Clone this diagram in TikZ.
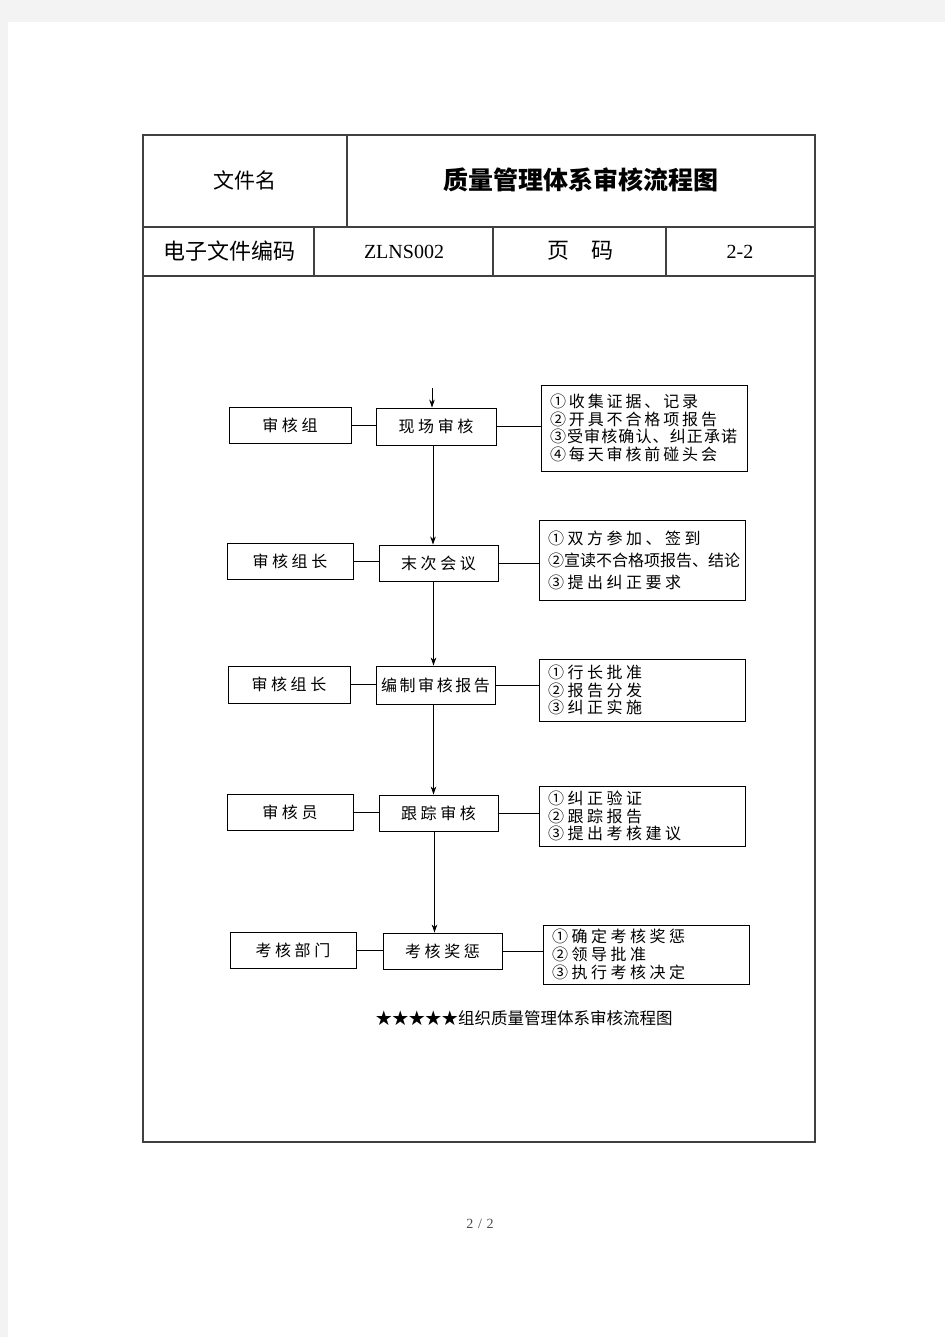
\documentclass[tikz,border=0pt]{standalone}
\usepackage{fontspec}
\setmainfont{Liberation Serif}
\newfontfamily\cjk{Noto Sans CJK SC}
\newfontfamily\cjksp[LetterSpace=22]{Noto Sans CJK SC}
\usetikzlibrary{arrows.meta}
\definecolor{pagegray}{HTML}{F3F3F3}
\definecolor{tblline}{HTML}{404040}
\newcommand{\spc}[1]{\addfontfeature{LetterSpace=#1}}
\begin{document}
\begin{tikzpicture}[x=1pt,y=-1pt,
  box/.style={draw=black, line width=0.9pt, inner sep=0pt,
    font=\cjksp\fontsize{16}{17.5}\selectfont},
  listbox/.style={draw=black, line width=0.9pt, inner xsep=9pt, inner ysep=0pt,
    text width=188pt, align=left, minimum width=206pt,
    font=\cjksp\fontsize{16}{17.6}\selectfont},
  tbl/.style={draw=tblline, line width=1.1pt},
  link/.style={line width=0.9pt},
  flow/.style={line width=0.9pt, -{Stealth[length=8pt,width=5.5pt]}}
]
\useasboundingbox (0,0) rectangle (945,1337);
\fill[pagegray] (0,0) rectangle (945,1337);
\fill[white] (8,22) rectangle (945,1337);

% table frame
\draw[tbl] (143,135) rectangle (815,1142);
\draw[tbl] (143,227) -- (815,227);
\draw[tbl] (143,276) -- (815,276);
\draw[tbl] (347,135) -- (347,227);
\draw[tbl] (314,227) -- (314,276);
\draw[tbl] (493,227) -- (493,276);
\draw[tbl] (666,227) -- (666,276);

\node[font=\cjk\fontsize{21}{24}\selectfont] (hname) at (245,180) {文件名};
\node[font=\cjk\bfseries\fontsize{25}{28}\selectfont] (htitle) at (581,180) {质量管理体系审核流程图};
\node[font=\cjk\fontsize{22}{24}\selectfont] (hcode) at (229,251) {电子文件编码};
\node[font=\fontsize{20}{24}\selectfont] (hcodev) at (404,252) {ZLNS002};
\node[font=\cjk\fontsize{22}{24}\selectfont] (hpage) at (580,251) {页　码};
\node[font=\fontsize{20}{24}\selectfont] (hpagev) at (740,252) {2-2};

% row 1
\node[box, minimum width=122pt, minimum height=36pt] (L1) at (290,425) {审核组};
\node[box, minimum width=120pt, minimum height=37pt] (M1) at (436,426.5) {现场审核};
\node[listbox, minimum height=86pt, font=\cjksp\spc{18}\fontsize{16}{17.6}\selectfont] (R1) at (644,428)
  {①收集证据、记录\\②开具不合格项报告\\{\spc{7}③受审核确认、纠正承诺}\\④每天审核前碰头会};
% row 2
\node[box, minimum width=126pt, minimum height=36pt] (L2) at (290,561) {审核组长};
\node[box, minimum width=119pt, minimum height=36pt] (M2) at (438.5,563) {末次会议};
\node[listbox, minimum height=80pt, font=\cjksp\fontsize{16}{22}\selectfont] (R2) at (642,560)
  {①双方参加、签到\\{\spc{0}②宣读不合格项报告、结论}\\③提出纠正要求};
% row 3
\node[box, minimum width=122pt, minimum height=37pt] (L3) at (289,684.5) {审核组长};
\node[box, minimum width=119pt, minimum height=38pt, font=\cjksp\spc{16}\fontsize{16}{17.5}\selectfont] (M3) at (435.5,685) {编制审核报告};
\node[listbox, minimum height=62pt] (R3) at (642,690)
  {①行长批准\\②报告分发\\③纠正实施};
% row 4
\node[box, minimum width=126pt, minimum height=36pt] (L4) at (290,812) {审核员};
\node[box, minimum width=119pt, minimum height=36pt] (M4) at (438.5,813) {跟踪审核};
\node[listbox, minimum height=60pt] (R4) at (642,816)
  {①纠正验证\\②跟踪报告\\③提出考核建议};
% row 5
\node[box, minimum width=126pt, minimum height=36pt] (L5) at (293,950) {考核部门};
\node[box, minimum width=119pt, minimum height=36pt] (M5) at (442.5,951) {考核奖惩};
\node[listbox, minimum height=59pt] (R5) at (646,954.5)
  {①确定考核奖惩\\②领导批准\\③执行考核决定};

% connectors
\coordinate (start) at (432,388);
\draw[flow] (start) -- (start |- M1.north);
\foreach \i in {1,...,5}{
  \draw[link] (L\i.east) -- (L\i.east -| M\i.west);
  \draw[link] (M\i.east) -- (M\i.east -| R\i.west);
}
\draw[flow] ([xshift=-3pt]M1.south) -- ([xshift=-3pt]M1.south |- M2.north);
\draw[flow] ([xshift=-5pt]M2.south) -- ([xshift=-5pt]M2.south |- M3.north);
\draw[flow] ([xshift=-2pt]M3.south) -- ([xshift=-2pt]M3.south |- M4.north);
\draw[flow] ([xshift=-4pt]M4.south) -- ([xshift=-4pt]M4.south |- M5.north);

\node[font=\cjk\fontsize{16.5}{20}\selectfont] (caption) at (524,1018) {★★★★★组织质量管理体系审核流程图};
\node[font=\fontsize{14}{16}\selectfont, text=black!70] (pageno) at (480,1224) {2\,\,/\,\,2};
\end{tikzpicture}
\end{document}
